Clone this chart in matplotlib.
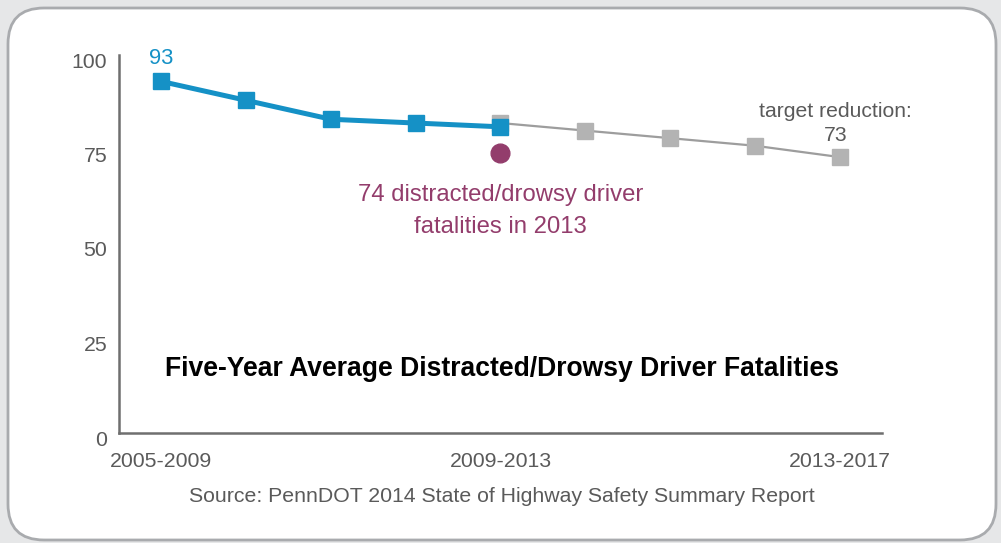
import matplotlib.pyplot as plt
import matplotlib.transforms as mtransforms
from matplotlib.patches import FancyBboxPatch

plt.rcParams['font.family'] = ['Liberation Sans', 'DejaVu Sans']

# data
actual_idx = [0, 1, 2, 3, 4]
actual_vals = [93, 88, 83, 82, 81]
target_idx = [4, 5, 6, 7, 8]
target_vals = [82, 80, 78, 76, 73]
single_year_idx = 4
single_year_val = 74
tick_pos = [0, 4, 8]
tick_labels = ['2005-2009', '2009-2013', '2013-2017']
y_ticks = [0, 25, 50, 75, 100]

blue = '#1591c6'
gray_mk = '#b3b3b3'
gray_ln = '#9d9d9d'
purple = '#933d6c'
txt_gray = '#5a5a5a'

W, H = 1001, 543
fig = plt.figure(figsize=(W / 100, H / 100), dpi=100)
fig.patch.set_facecolor('#e6e7e8')

# background panel in pixel coords
bg = fig.add_axes([0, 0, 1, 1])
bg.set_xlim(0, W)
bg.set_ylim(H, 0)
bg.axis('off')
panel = FancyBboxPatch((8, 8), 988, 532, boxstyle='round,pad=0,rounding_size=36',
                       facecolor='white', edgecolor='#a9abae', linewidth=2.0)
bg.add_patch(panel)
bg.text(502, 369, 'Five-Year Average Distracted/Drowsy Driver Fatalities',
        ha='center', va='center', fontsize=19.1, fontweight='bold', color='black')
bg.text(502, 497, 'Source: PennDOT 2014 State of Highway Safety Summary Report',
        ha='center', va='center', fontsize=15.3, color=txt_gray)

# main chart
ax = fig.add_axes([119 / W, 1 - 433 / H, (882 - 119) / W, (433 - 55) / H])
ax.patch.set_alpha(0)
ax.set_xlim(-0.5, 8.5)
ax.set_ylim(0, 100)

ax.plot(target_idx, target_vals, color=gray_ln, linewidth=1.6, marker='s',
        markersize=11.5, markerfacecolor=gray_mk, markeredgecolor=gray_mk, zorder=2)
ax.plot(actual_idx, actual_vals, color=blue, linewidth=3.6, marker='s',
        markersize=11.5, markerfacecolor=blue, markeredgecolor=blue, zorder=3)
ax.plot([single_year_idx], [single_year_val], 'o', color=purple, markersize=13.5, zorder=3)

ax.annotate(str(actual_vals[0]), (actual_idx[0], actual_vals[0]), xytext=(0, 16.5),
            textcoords='offset points', ha='center', va='center', fontsize=15.8, color=blue)
ax.annotate('target reduction:\n%d' % target_vals[-1], (target_idx[-1], target_vals[-1]),
            xytext=(-3, 24), textcoords='offset points', ha='center', va='center',
            fontsize=15.2, color=txt_gray, linespacing=1.3)
ax.annotate('%d distracted/drowsy driver\nfatalities in 2013' % single_year_val,
            (single_year_idx, single_year_val), xytext=(0, -41.5), textcoords='offset points',
            ha='center', va='center', fontsize=17.2, color=purple, linespacing=1.55)

for s in ['top', 'right']:
    ax.spines[s].set_visible(False)
for s in ['left', 'bottom']:
    ax.spines[s].set_color('#6f6f6f')
    ax.spines[s].set_linewidth(1.8)

ax.set_yticks(y_ticks)
ax.set_xticks(tick_pos)
ax.set_xticklabels(tick_labels)
ax.tick_params(axis='both', length=0, labelsize=15.3, labelcolor=txt_gray)
ax.tick_params(axis='y', pad=8.5)
ax.tick_params(axis='x', pad=14)
off = mtransforms.ScaledTranslation(0, -5 / 100, fig.dpi_scale_trans)
for lab in ax.get_yticklabels():
    lab.set_transform(lab.get_transform() + off)

fig.savefig('out.png', dpi=100, facecolor=fig.get_facecolor())
